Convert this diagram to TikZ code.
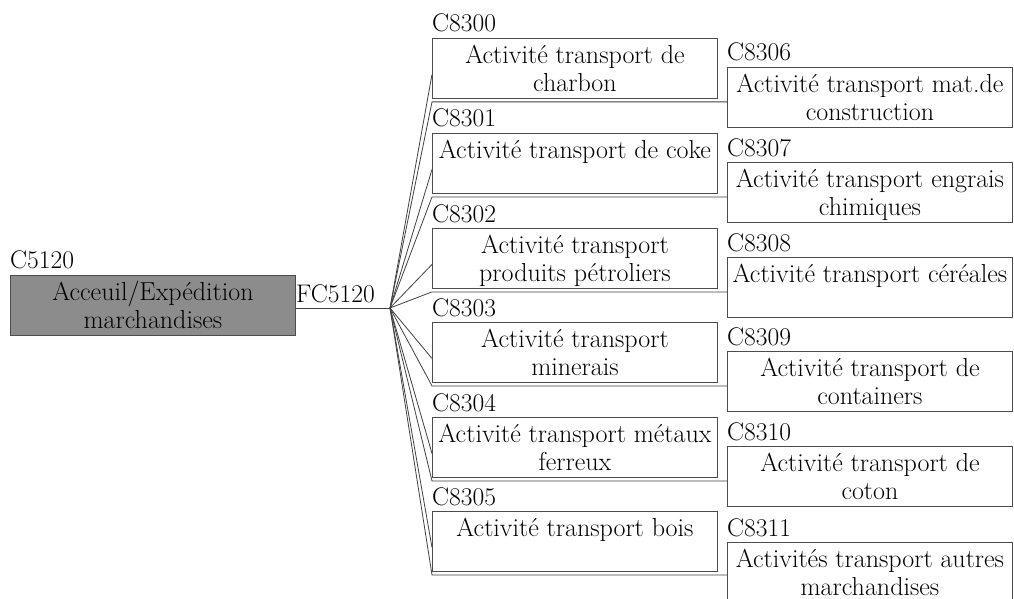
\documentclass[tikz,border=0pt]{standalone}
\usepackage{fontspec}
\newcommand\bt[1]{\parbox[c][60pt][t]{285pt}{\centering\fontsize{26}{28.5}\selectfont\rule{0pt}{25pt}#1}}
\begin{document}
\begin{tikzpicture}[x=1pt,y=-1pt,
  box/.style={draw=black!70, line width=0.9pt, fill=white, anchor=north west,
    minimum width=285pt, minimum height=60pt, inner sep=0pt},
  mainbox/.style={box, fill=black!45},
  code/.style={anchor=base west, inner sep=0pt, font=\fontsize{25.5}{29}\selectfont},
  link/.style={draw=black!75, line width=0.8pt}]
\useasboundingbox (0,0) rectangle (1014,599);

% root
\node[mainbox] (root) at (10,275) {\bt{Acceuil/Expédition\\marchandises}};
\node[code] (rootc) at (10,268) {C5120};
\coordinate (hub) at (390,308);
\node[code] (fc) at (296,302) {FC5120};
\draw[link] (root.east |- hub) -- (hub);

% left column
\foreach \n/\y/\c/\t in {
  L0/38/C8300/{Activité transport de\\charbon},
  L1/133/C8301/{Activité transport de coke},
  L2/228/C8302/{Activité transport\\produits pétroliers},
  L3/322/C8303/{Activité transport\\minerais},
  L4/417/C8304/{Activité transport métaux\\ferreux},
  L5/511/C8305/{Activité transport bois}}{
  \node[box] (\n) at (432,\y) {\bt{\t}};
  \node[code] (\n c) at (432,\y-6) {\c};
}

% right column
\foreach \n/\y/\c/\t in {
  R0/67/C8306/{Activité transport mat.de\\construction},
  R1/162/C8307/{Activité transport engrais\\chimiques},
  R2/257/C8308/{Activité transport céréales},
  R3/351/C8309/{Activité transport de\\containers},
  R4/446/C8310/{Activité transport de\\coton},
  R5/542/C8311/{Activités transport autres\\marchandises}}{
  \node[box] (\n) at (727,\y) {\bt{\t}};
  \node[code] (\n c) at (727,\y-6) {\c};
}

% connectors
\foreach \i in {0,...,5}{
  \draw[link] (hub) -- ([yshift=-6pt]L\i.west);
  \coordinate (b\i) at ([yshift=-3pt]L\i.south west);
  \draw[link] (hub) -- (b\i) -- (b\i -| R\i.west);
}
\end{tikzpicture}
\end{document}
